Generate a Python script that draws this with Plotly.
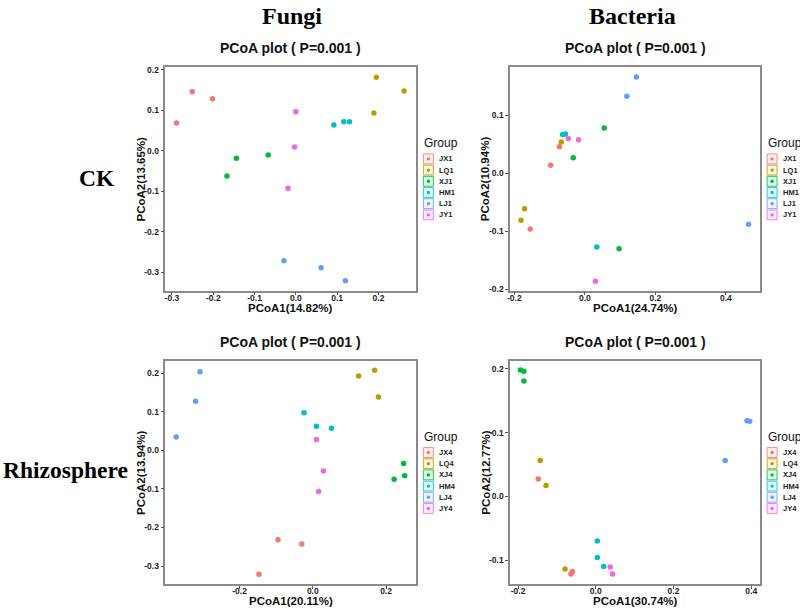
import plotly.graph_objects as go

# ---------------- data ----------------
colors = ["#F8766D", "#B79F00", "#00BA38", "#00BFC4", "#619CFF", "#F564E3"]
groups_ck = ["JX1", "LQ1", "XJ1", "HM1", "LJ1", "JY1"]
groups_rh = ["JX4", "LQ4", "XJ4", "HM4", "LJ4", "JY4"]

fungi_ck_group = ["JX1"] * 3 + ["LQ1"] * 3 + ["XJ1"] * 3 + ["HM1"] * 3 + ["LJ1"] * 3 + ["JY1"] * 3
fungi_ck_x = [-0.289, -0.251, -0.202, 0.195, 0.189, 0.262, -0.144, -0.067, -0.167,
              0.092, 0.116, 0.130, -0.029, 0.061, 0.120, 0.000, -0.003, -0.019]
fungi_ck_y = [0.068, 0.145, 0.128, 0.181, 0.093, 0.147, -0.019, -0.011, -0.063,
              0.063, 0.071, 0.071, -0.272, -0.289, -0.321, 0.096, 0.009, -0.093]

bact_ck_group = ["JX1"] * 3 + ["LQ1"] * 3 + ["XJ1"] * 3 + ["HM1"] * 3 + ["LJ1"] * 3 + ["JY1"] * 3
bact_ck_x = [-0.072, -0.155, -0.097, -0.067, -0.171, -0.181, 0.055, -0.033, 0.097,
             -0.063, -0.055, 0.034, 0.146, 0.119, 0.464, -0.047, -0.018, 0.030]
bact_ck_y = [0.046, -0.096, 0.014, 0.054, -0.061, -0.081, 0.078, 0.027, -0.130,
             0.067, 0.068, -0.127, 0.166, 0.133, -0.088, 0.060, 0.058, -0.186]

fungi_rh_group = ["JX4"] * 3 + ["LQ4"] * 3 + ["XJ4"] * 3 + ["HM4"] * 3 + ["LJ4"] * 3 + ["JY4"] * 3
fungi_rh_x = [-0.095, -0.030, -0.147, 0.125, 0.169, 0.179, 0.222, 0.248, 0.251,
              -0.024, 0.010, 0.051, -0.308, -0.320, -0.373, 0.010, 0.029, 0.016]
fungi_rh_y = [-0.232, -0.243, -0.321, 0.192, 0.207, 0.138, -0.075, -0.034, -0.066,
              0.097, 0.062, 0.057, 0.203, 0.127, 0.034, 0.028, -0.054, -0.107]

bact_rh_group = ["JX4"] * 3 + ["LQ4"] * 3 + ["XJ4"] * 3 + ["HM4"] * 3 + ["LJ4"] * 3 + ["JY4"] * 2
bact_rh_x = [-0.148, -0.060, -0.064, -0.143, -0.128, -0.079, -0.194, -0.185, -0.185,
             0.004, 0.004, 0.0205, 0.389, 0.396, 0.333, 0.037, 0.043]
bact_rh_y = [0.027, -0.118, -0.122, 0.056, 0.017, -0.114, 0.198, 0.196, 0.181,
             -0.070, -0.096, -0.110, 0.1185, 0.1175, 0.056, -0.111, -0.122]

x_titles = ["PCoA1(14.82%)", "PCoA1(24.74%)", "PCoA1(20.11%)", "PCoA1(30.74%)"]
y_titles = ["PCoA2(13.65%)", "PCoA2(10.94%)", "PCoA2(13.94%)", "PCoA2(12.77%)"]
plot_title = "PCoA plot ( P=0.001 )"
col_labels = ["Fungi", "Bacteria"]
row_labels = ["CK", "Rhizosphere"]

ticks_f_ck_x = [-0.3, -0.2, -0.1, 0.0, 0.1, 0.2]
ticks_f_ck_y = [-0.3, -0.2, -0.1, 0.0, 0.1, 0.2]
ticks_b_ck_x = [-0.2, 0.0, 0.2, 0.4]
ticks_b_ck_y = [-0.2, -0.1, 0.0, 0.1]
ticks_f_rh_x = [-0.2, 0.0, 0.2]
ticks_f_rh_y = [-0.3, -0.2, -0.1, 0.0, 0.1, 0.2]
ticks_b_rh_x = [-0.2, 0.0, 0.2, 0.4]
ticks_b_rh_y = [-0.1, 0.0, 0.1, 0.2]

# ---------------- layout geometry (pixels) ----------------
W, H = 800, 610


def px(x):
    return x / W


def py(y):
    return 1 - y / H


panels = [
    # (x data, y data, groups, group names, box px [l, r, t, b], xrange, yrange, xticks, yticks, xtitle gap)
    (fungi_ck_x, fungi_ck_y, fungi_ck_group, groups_ck, [163, 415, 65, 291],
     [-0.316, 0.292], [-0.3456, 0.2056], ticks_f_ck_x, ticks_f_ck_y, 18),
    (bact_ck_x, bact_ck_y, bact_ck_group, groups_ck, [509, 760, 65, 291],
     [-0.212, 0.497], [-0.2024, 0.183], ticks_b_ck_x, ticks_b_ck_y, 18),
    (fungi_rh_x, fungi_rh_y, fungi_rh_group, groups_rh, [163, 415, 362, 588],
     [-0.4025, 0.283], [-0.347, 0.2315], ticks_f_rh_x, ticks_f_rh_y, 16.5),
    (bact_rh_x, bact_rh_y, bact_rh_group, groups_rh, [509, 760, 362, 588],
     [-0.2205, 0.423], [-0.1379, 0.2124], ticks_b_rh_x, ticks_b_rh_y, 16.5),
]


def hex_rgba(h, a):
    h = h.lstrip("#")
    r, g, b = int(h[0:2], 16), int(h[2:4], 16), int(h[4:6], 16)
    return f"rgba({r},{g},{b},{a})"


def fmt(v):
    s = f"{v:.1f}"
    return "0.0" if s == "-0.0" else s


fig = go.Figure()
layout = dict(width=W, height=H, margin=dict(l=0, r=0, t=0, b=0),
              paper_bgcolor="white", plot_bgcolor="white", showlegend=False)
annotations = []
shapes = []

for i, (xs, ys, grp, gnames, box, xr, yr, xt, yt, tgap) in enumerate(panels):
    k = "" if i == 0 else str(i + 1)
    l, r, t, b = box
    axis_common = dict(showgrid=False, zeroline=False, showline=True, mirror=True,
                       linecolor="#8a8a8a", linewidth=1.5, ticks="outside", ticklen=3,
                       tickcolor="#555", tickwidth=1,
                       tickfont=dict(family="Liberation Sans", size=8.5, color="#222", weight="bold"))
    layout["xaxis" + k] = dict(domain=[px(l), px(r)], range=xr, anchor="y" + k,
                               tickvals=xt, ticktext=[fmt(v) for v in xt],
                               ticklabelstandoff=-5, **axis_common)
    layout["yaxis" + k] = dict(domain=[py(b), py(t)], range=yr, anchor="x" + k,
                               tickvals=yt, ticktext=[fmt(v) for v in yt], **axis_common)
    for gi, g in enumerate(gnames):
        gx = [x for x, gg in zip(xs, grp) if gg == g]
        gy = [y for y, gg in zip(ys, grp) if gg == g]
        fig.add_trace(go.Scatter(x=gx, y=gy, mode="markers", name=g,
                                 xaxis="x" + k, yaxis="y" + k,
                                 marker=dict(color=colors[gi], size=5.5, line=dict(width=0))))
    cx = (l + r) / 2
    cy = (t + b) / 2
    # panel title
    annotations.append(dict(text="<b>" + plot_title + "</b>", x=px(cx), y=py(t - 19),
                            xref="paper", yref="paper", showarrow=False,
                            font=dict(family="Liberation Sans", size=14, color="#111"),
                            xanchor="center", yanchor="middle"))
    # axis titles
    annotations.append(dict(text="<b>" + x_titles[i] + "</b>", x=px(cx), y=py(b + tgap),
                            xref="paper", yref="paper", showarrow=False,
                            font=dict(family="Liberation Sans", size=11.5, color="#111"),
                            xanchor="center", yanchor="middle"))
    annotations.append(dict(text="<b>" + y_titles[i] + "</b>", x=px(l - 25), y=py(cy),
                            xref="paper", yref="paper", showarrow=False, textangle=-90,
                            font=dict(family="Liberation Sans", size=11.5, color="#111"),
                            xanchor="center", yanchor="middle"))
    # legend
    ly = t + 77
    annotations.append(dict(text="Group", x=px(r + 6), y=py(ly), xref="paper", yref="paper",
                            showarrow=False, xanchor="left", yanchor="middle",
                            font=dict(family="Liberation Sans", size=12, color="#111")))
    for gi, g in enumerate(gnames):
        ky = ly + 15.7 + gi * 11.33
        kx = r + 12
        shapes.append(dict(type="rect", xref="paper", yref="paper",
                           x0=px(kx - 5), x1=px(kx + 5), y0=py(ky + 5), y1=py(ky - 5),
                           line=dict(color=hex_rgba(colors[gi], 0.8), width=1),
                           fillcolor=hex_rgba(colors[gi], 0.12)))
        shapes.append(dict(type="circle", xref="paper", yref="paper",
                           x0=px(kx - 1.7), x1=px(kx + 1.7), y0=py(ky + 1.7), y1=py(ky - 1.7),
                           line=dict(width=0), fillcolor=colors[gi]))
        annotations.append(dict(text="<b>" + g + "</b>", x=px(kx + 9), y=py(ky),
                                xref="paper", yref="paper", showarrow=False,
                                xanchor="left", yanchor="middle",
                                font=dict(family="Liberation Sans", size=7.5, color="#222")))

# column and row headers
for cx, lab in zip([290, 632], col_labels):
    annotations.append(dict(text="<b>" + lab + "</b>", x=px(cx), y=py(13), xref="paper", yref="paper",
                            showarrow=False, xanchor="center", yanchor="middle",
                            font=dict(family="Liberation Serif", size=24, color="#000")))
for cy, cxp, lab in zip([177, 472], [94.5, 62.5], row_labels):
    annotations.append(dict(text="<b>" + lab + "</b>", x=px(cxp), y=py(cy), xref="paper", yref="paper",
                            showarrow=False, xanchor="center", yanchor="middle",
                            font=dict(family="Liberation Serif", size=23.5, color="#000")))

layout["annotations"] = annotations
layout["shapes"] = shapes
fig.update_layout(**layout)
fig.write_html("out.html", config={"displayModeBar": False},
               post_script="document.body.style.margin='0px';")
